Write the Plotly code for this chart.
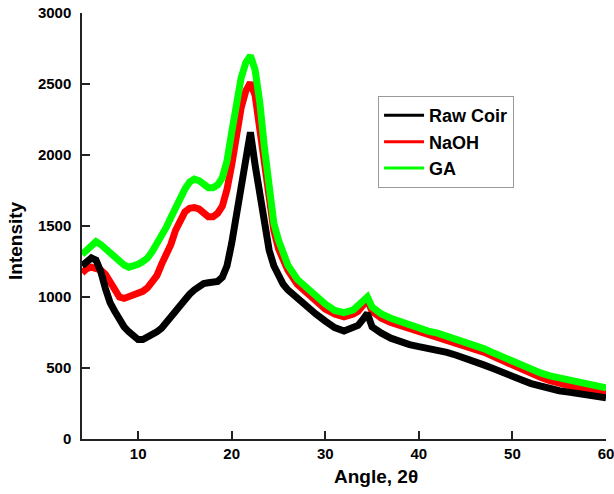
import plotly.graph_objects as go

angle = [4, 4.5, 5, 5.5, 6, 6.5, 7, 7.5, 8, 8.5, 9, 9.5, 10, 10.5, 11, 11.5, 12, 12.5,
         13, 13.5, 14, 14.5, 15, 15.5, 16, 16.5, 17, 17.5, 18, 18.5, 19, 19.5, 20, 20.5,
         21, 21.5, 22, 22.5, 23, 23.5, 24, 24.5, 25, 25.5, 26, 27, 28, 29, 30, 31, 32,
         33, 33.5, 34, 34.5, 35, 35.5, 36, 37, 38, 39, 40, 41, 42, 43, 44, 45, 46, 47,
         48, 49, 50, 51, 52, 53, 54, 55, 56, 57, 58, 59, 60]

raw_coir = [1220, 1250, 1275, 1260, 1180, 1060, 960, 900, 840, 790, 755, 725, 700, 700,
            715, 730, 755, 780, 815, 860, 900, 940, 985, 1020, 1050, 1075, 1095, 1100,
            1105, 1110, 1140, 1220, 1380, 1580, 1800, 2020, 2160, 1930, 1720, 1500, 1330,
            1220, 1140, 1090, 1050, 990, 935, 880, 830, 785, 760, 780, 800, 840, 885, 790,
            760, 745, 710, 685, 665, 650, 640, 630, 610, 590, 570, 550, 520, 495, 465, 440,
            415, 390, 370, 355, 340, 330, 320, 310, 300, 290]

naoh = [1170, 1200, 1210, 1205, 1190, 1160, 1110, 1050, 1000, 990, 1000, 1010, 1020, 1040,
        1065, 1100, 1150, 1230, 1290, 1370, 1470, 1550, 1600, 1625, 1630, 1620, 1590, 1565,
        1565, 1590, 1640, 1760, 1930, 2140, 2330, 2450, 2510, 2420, 2200, 1950, 1680, 1470,
        1340, 1260, 1190, 1090, 1030, 970, 915, 880, 860, 880, 900, 940, 980, 900, 870, 850,
        820, 800, 775, 750, 730, 715, 700, 680, 660, 635, 610, 580, 550, 515, 490, 460, 435,
        410, 390, 375, 360, 345, 335, 320]

ga = [1300, 1330, 1360, 1390, 1370, 1340, 1310, 1280, 1250, 1225, 1210, 1215, 1230, 1250,
      1275, 1320, 1370, 1430, 1490, 1560, 1630, 1690, 1760, 1810, 1830, 1820, 1790, 1770,
      1770, 1790, 1840, 1960, 2160, 2350, 2540, 2650, 2700, 2600, 2370, 2050, 1800, 1520,
      1400, 1300, 1225, 1125, 1065, 1005, 950, 905, 890, 910, 940, 970, 1000, 930, 900, 880,
      850, 825, 800, 775, 760, 745, 725, 705, 685, 660, 635, 605, 575, 545, 515, 490, 465,
      445, 430, 415, 400, 390, 375, 360]

series_names = ["Raw Coir", "NaOH", "GA"]
series_colors = ["#000000", "#ff0000", "#00ff00"]
x_ticks = [10, 20, 30, 40, 50, 60]
y_ticks = [0, 500, 1000, 1500, 2000, 2500, 3000]

FONT = "Liberation Sans, Arial, sans-serif"

fig = go.Figure()
data = {"Raw Coir": raw_coir, "NaOH": naoh, "GA": ga}
# draw order: NaOH, GA, Raw Coir on top
for name in ["NaOH", "GA", "Raw Coir"]:
    col = series_colors[series_names.index(name)]
    fig.add_trace(go.Scatter(x=angle, y=data[name], mode="lines", name=name,
                             line=dict(color=col, width=7), showlegend=False,
                             hoverinfo="skip"))
# legend entries
for i, name in enumerate(series_names):
    fig.add_trace(go.Scatter(x=[None], y=[None], mode="lines", name=name,
                             line=dict(color=series_colors[i], width=3),
                             legendrank=i + 1))

axis_common = dict(ticks="inside", ticklen=8, tickwidth=1.5, tickcolor="#222",
                   showline=True, linecolor="#222", linewidth=1.5, showgrid=False,
                   zeroline=False, mirror=False, automargin=False,
                   ticklabeloverflow="allow",
                   tickfont=dict(family=FONT, size=15, weight="bold", color="black"))

fig.update_layout(
    template="none",
    width=614, height=494,
    margin=dict(l=82, r=8, t=13, b=55, pad=0),
    paper_bgcolor="white", plot_bgcolor="white",
    font=dict(family=FONT, color="black"),
    showlegend=True,
    legend=dict(x=0.565, y=0.805, xanchor="left", yanchor="top",
                bgcolor="white", bordercolor="#999999", borderwidth=1,
                font=dict(family=FONT, size=18, weight="bold", color="black"),
                tracegroupgap=0, itemwidth=40),
    xaxis=dict(range=[4, 60], tickvals=x_ticks, ticklabelstandoff=0, **axis_common),
    yaxis=dict(range=[0, 3000], tickvals=y_ticks, ticklabelstandoff=6, **axis_common),
    annotations=[
        dict(text="Intensity", xref="paper", yref="paper", x=-0.128, y=0.467,
             textangle=-90, showarrow=False, xanchor="center", yanchor="middle",
             font=dict(family=FONT, size=19, weight="bold", color="black")),
        dict(text="Angle, 2θ", xref="paper", yref="paper", x=0.561, y=-0.089,
             showarrow=False, xanchor="center", yanchor="middle",
             font=dict(family=FONT, size=19, weight="bold", color="black")),
    ],
)

fig.write_html("out.html", config={"displayModeBar": False},
               post_script="document.body.style.margin='0';document.body.style.overflow='hidden';")
